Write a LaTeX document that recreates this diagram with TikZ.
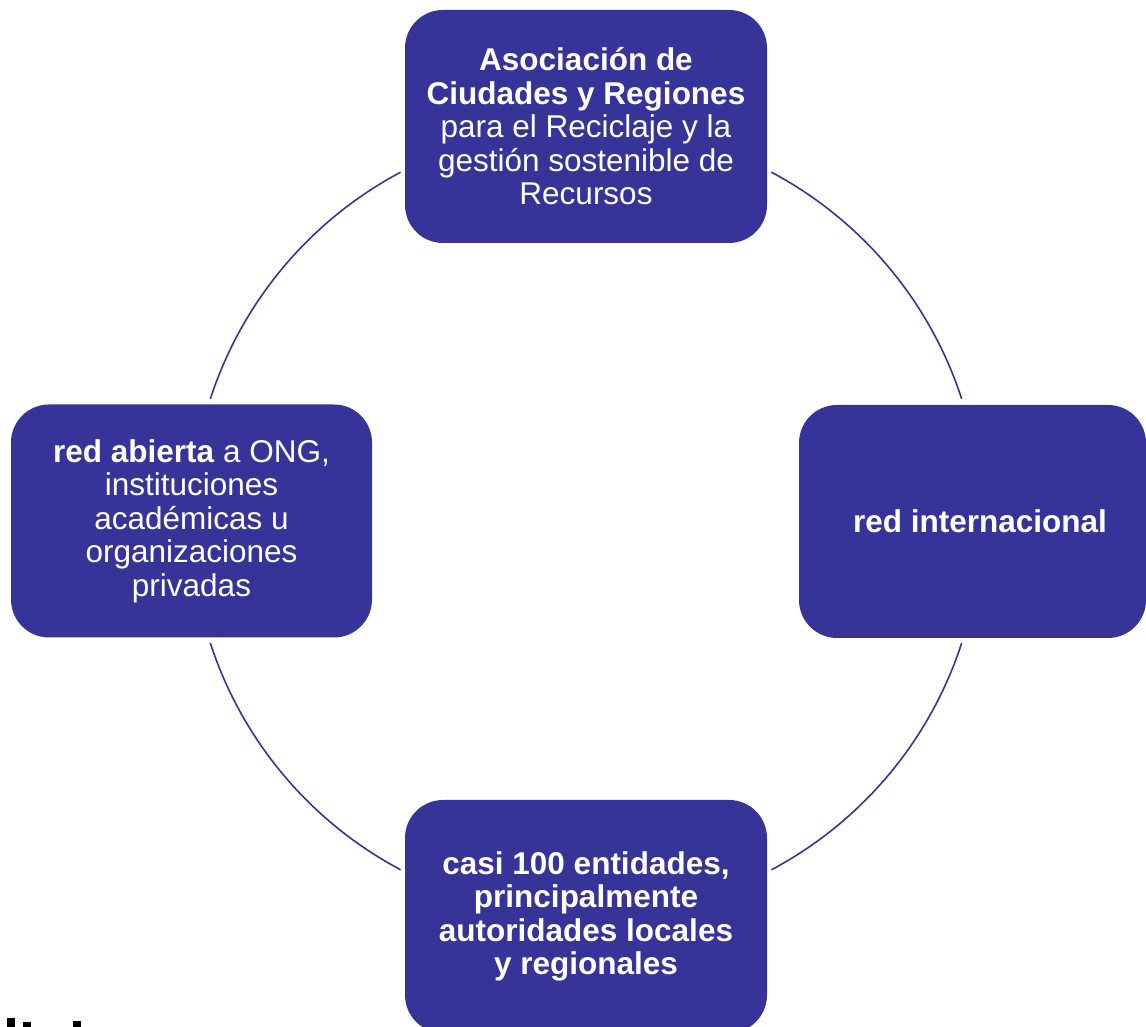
\documentclass[tikz,border=0pt]{standalone}
\usepackage{fontspec}
\setmainfont{Liberation Sans}
\definecolor{boxblue}{RGB}{54,52,152}
\begin{document}
\begin{tikzpicture}[x=1pt,y=1pt,
  card/.style={draw=none, fill=boxblue, rounded corners=38pt, minimum width=362pt, minimum height=233pt, inner sep=0pt},
  cardtext/.style={text=white, align=center, font=\fontsize{31.5}{33.5}\selectfont},
  ring/.style={draw=boxblue, line width=1.6pt}]
\useasboundingbox (0,0) rectangle (1146,1027);
\begin{scope}
\clip (0,0) rectangle (1146,1027);
% centre of ring
\coordinate (c) at (586,506);
% boxes
\node[card] (top) at (586,900.5) {};
\node[card, minimum width=347pt] (right) at (972.5,505.5) {};
\node[card, minimum width=361pt] (left) at (191.5,506) {};
\node[card] (bottom) at (586,110.5) {};
% texts
\node[cardtext] (toptext) at (top.center) {\textbf{Asociación de}\\\textbf{Ciudades y Regiones}\\para el Reciclaje y la\\gestión sostenible de\\Recursos};
\node[cardtext] (righttext) at (980,506) {\textbf{red internacional}};
\node[cardtext] (lefttext) at (left.center) {\textbf{red abierta} a ONG,\\instituciones\\académicas u\\organizaciones\\privadas};
\node[cardtext] (bottomtext) at (bottom.center) {\textbf{casi 100 entidades,}\\\textbf{principalmente}\\\textbf{autoridades locales}\\\textbf{y regionales}};
% ring arcs between the boxes
\draw[ring] ([shift={(18:395)}]c) arc[start angle=18, end angle=62, radius=395];
\draw[ring] ([shift={(118:395)}]c) arc[start angle=118, end angle=162, radius=395];
\draw[ring] ([shift={(198:395)}]c) arc[start angle=198, end angle=242, radius=395];
\draw[ring] ([shift={(298:395)}]c) arc[start angle=298, end angle=342, radius=395];
% cut-off fragments at bottom-left
\fill[black] (7,0) rectangle (15,9);
\fill[black] (23,0) rectangle (31,5);
\fill[black] (73,0) rectangle (81,6);
\end{scope}
\end{tikzpicture}
\end{document}
